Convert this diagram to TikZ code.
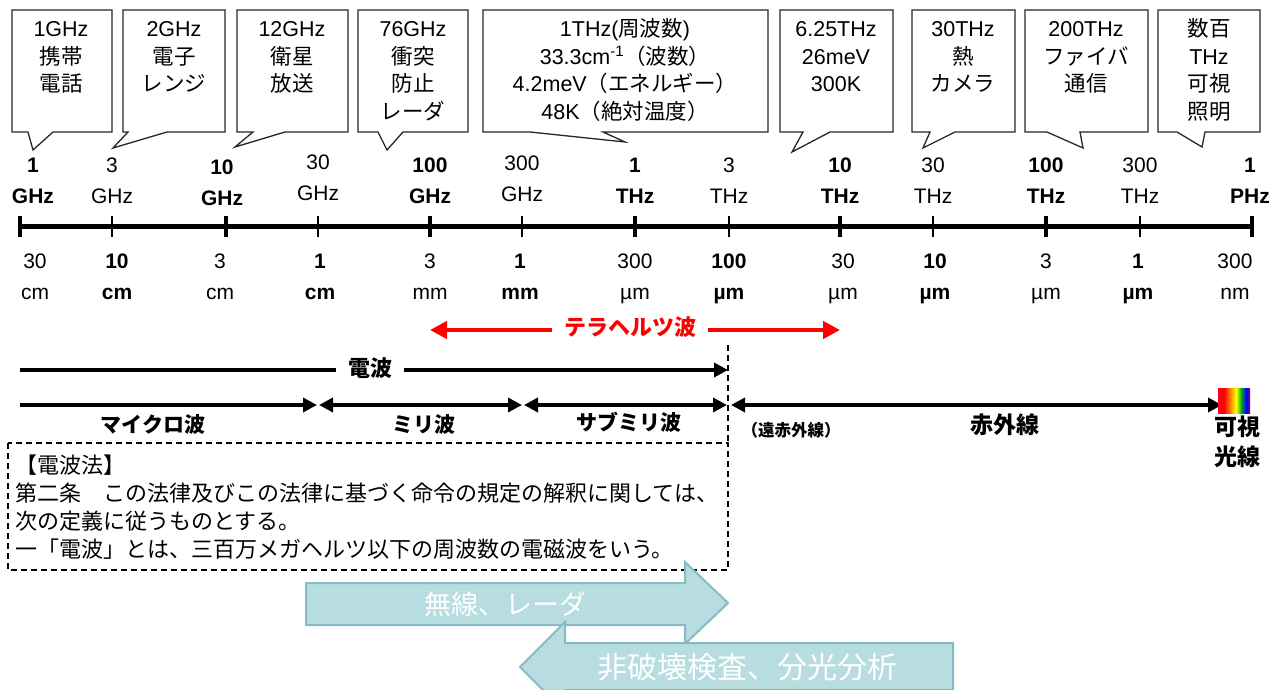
\documentclass[tikz,border=0pt]{standalone}
\usepackage{fontspec}
\setmainfont{Liberation Sans}
\newfontfamily\jp{Noto Sans CJK JP}
\usetikzlibrary{arrows.meta}
\definecolor{tealfill}{HTML}{B7DDE0}
\definecolor{tealline}{HTML}{86BCC1}
\begin{document}
\begin{tikzpicture}[x=1pt,y=-1pt,
  callout/.style={draw=black!85, line width=1.3pt, fill=white, line join=miter},
  ctext/.style={align=center, font=\fontsize{21.5}{27.5}\selectfont, inner sep=0pt, anchor=base},
  toplab/.style={align=center, font=\fontsize{21}{31}\selectfont, inner sep=0pt, anchor=base},
  toplabB/.style={align=center, font=\fontsize{21}{31}\selectfont\bfseries, inner sep=0pt, anchor=base},
  majortick/.style={line width=4pt},
  minortick/.style={line width=1.3pt},
  tipk/.tip={Triangle[length=14pt,width=14pt]},
  blkline/.style={line width=4pt},
  blkarrow/.style={line width=4pt,-tipk},
  blkboth/.style={line width=4pt,tipk-tipk},
  redtip/.tip={Triangle[length=17pt,width=17pt]},
  redline/.style={line width=4.5pt, draw=red, -redtip},
  lab/.style={font=\jp\fontsize{21}{26}\selectfont\bfseries, inner sep=0pt, anchor=center},
  dashline/.style={line width=1.3pt, dash pattern=on 6pt off 4pt},
  bigarrow/.style={fill=tealfill, draw=tealline, line width=2pt, line join=miter},
  bigtext/.style={text=white, font=\jp\fontsize{27}{30}\selectfont, inner sep=0pt}
]
\clip (0,0) rectangle (1277,690);
\fill[white] (0,0) rectangle (1277,690);

% ---------- callouts ----------
\draw[callout] (12,10) -- (112,10) -- (112,132) -- (53,132) -- (33,150) -- (28,132) -- (12,132) -- cycle;
\node[ctext] (c1) at (61,92) {1GHz\\{\jp 携帯}\\{\jp 電話}};

\draw[callout] (123,10) -- (225,10) -- (225,132) -- (167,132) -- (113,148) -- (128,132) -- (123,132) -- cycle;
\node[ctext] (c2) at (174,92) {2GHz\\{\jp 電子}\\{\jp レンジ}};

\draw[callout] (237,10) -- (348,10) -- (348,132) -- (285,132) -- (235,147) -- (253,132) -- (237,132) -- cycle;
\node[ctext] (c3) at (292,92) {12GHz\\{\jp 衛星}\\{\jp 放送}};

\draw[callout] (358,10) -- (468,10) -- (468,132) -- (403,132) -- (387,150) -- (378,132) -- (358,132) -- cycle;
\node[ctext] (c4) at (413,119.5) {76GHz\\{\jp 衝突}\\{\jp 防止}\\{\jp レーダ}};

\draw[callout] (483,10) -- (768,10) -- (768,132) -- (603,132) -- (625,142) -- (530,132) -- (483,132) -- cycle;
\node[ctext] (c5) at (625,119.5) {1THz({\jp 周波数})\\33.3cm\textsuperscript{-1}{\jp （波数）}\\4.2meV{\jp （エネルギー）}\\48K{\jp （絶対温度）}};

\draw[callout] (780,10) -- (893,10) -- (893,132) -- (830,132) -- (792,152) -- (803,132) -- (780,132) -- cycle;
\node[ctext] (c6) at (836,92) {6.25THz\\26meV\\300K};

\draw[callout] (912,10) -- (1015,10) -- (1015,132) -- (955,132) -- (923,148) -- (930,132) -- (912,132) -- cycle;
\node[ctext] (c7) at (963,92) {30THz\\{\jp 熱}\\{\jp カメラ}};

\draw[callout] (1025,10) -- (1148,10) -- (1148,132) -- (1080,132) -- (1083,148) -- (1047,132) -- (1025,132) -- cycle;
\node[ctext] (c8) at (1086,92) {200THz\\{\jp ファイバ}\\{\jp 通信}};

\draw[callout] (1158,10) -- (1260,10) -- (1260,132) -- (1205,132) -- (1202,147) -- (1177,132) -- (1158,132) -- cycle;
\node[ctext] (c9) at (1209,119.5) {{\jp 数百}\\THz\\{\jp 可視}\\{\jp 照明}};

% ---------- axis ----------
\draw[line width=5pt] (20,226) -- (1252,226);
\foreach \x in {20,226,430,635,840,1046,1252} \draw[majortick] (\x,216) -- (\x,237);
\foreach \x in {112,318,522,729,933,1140} \draw[minortick] (\x,216) -- (\x,237);

% top labels
\node[toplabB] (f1) at (33,203) {1\\GHz};
\node[toplab]  (f2) at (112,203) {3\\GHz};
\node[toplabB] (f3) at (222,205) {10\\GHz};
\node[toplab]  (f4) at (318,200) {30\\GHz};
\node[toplabB] (f5) at (430,203) {100\\GHz};
\node[toplab]  (f6) at (522,201) {300\\GHz};
\node[toplabB] (f7) at (635,203) {1\\THz};
\node[toplab]  (f8) at (729,203) {3\\THz};
\node[toplabB] (f9) at (840,203) {10\\THz};
\node[toplab]  (f10) at (933,203) {30\\THz};
\node[toplabB] (f11) at (1046,203) {100\\THz};
\node[toplab]  (f12) at (1140,203) {300\\THz};
\node[toplabB] (f13) at (1250,203) {1\\PHz};

% bottom labels
\node[toplab]  (w1) at (35,299) {30\\cm};
\node[toplabB] (w2) at (117,299) {10\\cm};
\node[toplab]  (w3) at (220,299) {3\\cm};
\node[toplabB] (w4) at (320,299) {1\\cm};
\node[toplab]  (w5) at (430,299) {3\\mm};
\node[toplabB] (w6) at (520,299) {1\\mm};
\node[toplab]  (w7) at (635,299) {300\\µm};
\node[toplabB] (w8) at (729,299) {100\\µm};
\node[toplab]  (w9) at (843,299) {30\\µm};
\node[toplabB] (w10) at (935,299) {10\\µm};
\node[toplab]  (w11) at (1046,299) {3\\µm};
\node[toplabB] (w12) at (1138,299) {1\\µm};
\node[toplab]  (w13) at (1235,299) {300\\nm};

% ---------- terahertz ----------
\coordinate (r1) at (430,330);
\coordinate (r2) at (840,330);
\node[lab, text=red, font=\jp\fontsize{22}{26}\selectfont\bfseries, inner xsep=12pt] (thz) at (630,327) {テラヘルツ波};
\draw[redline] (r1 -| thz.west) -- (r1);
\draw[redline] (r2 -| thz.east) -- (r2);

% ---------- radio waves ----------
\coordinate (d1) at (20,370);
\coordinate (d2) at (728,370);
\node[lab, font=\jp\fontsize{22}{26}\selectfont\bfseries, inner xsep=12pt] (denpa) at (370,368) {電波};
\draw[blkline] (d1) -- (d1 -| denpa.west);
\draw[blkarrow] (d2 -| denpa.east) -- (d2);

% ---------- bands ----------
\coordinate (b0) at (20,405);
\coordinate (b1) at (317,405);
\coordinate (b1r) at (319,405);
\coordinate (b2) at (522,405);
\coordinate (b2r) at (524,405);
\coordinate (b3) at (727,405);
\coordinate (b3r) at (731,405);
\coordinate (b4) at (1222,405);
\draw[blkarrow] (b0) -- (b1);
\draw[blkboth] (b1r) -- (b2);
\draw[blkboth] (b2r) -- (b3);
\draw[blkboth] (b3r) -- (b4);

\node[lab] (micro) at (153,425) {マイクロ波};
\node[lab] (milli) at (424,425) {ミリ波};
\node[lab] (submm) at (629,422) {サブミリ波};
\node[lab, font=\jp\fontsize{16.5}{19}\selectfont\bfseries] (fir) at (791,430) {（遠赤外線）};
\node[lab, font=\jp\fontsize{23}{26}\selectfont\bfseries] (ir) at (1005,425) {赤外線};
\node[lab, font=\jp\fontsize{23}{30}\selectfont\bfseries, align=center] (vis) at (1237,442) {可視\\光線};

% rainbow
\shade[left color=red!85!magenta, right color=red] (1218,388) rectangle (1224,413);
\shade[left color=red, right color=orange] (1224,388) rectangle (1230,413);
\shade[left color=orange, right color=yellow] (1230,388) rectangle (1236,413);
\shade[left color=yellow, right color=green!70!black] (1236,388) rectangle (1241,413);
\shade[left color=green!70!black, right color=blue] (1241,388) rectangle (1246,413);
\shade[left color=blue, right color=violet] (1246,388) rectangle (1250,413);

% ---------- law box ----------
\draw[dashline] (728,345) -- (728,443);
\draw[dashline] (8,443) rectangle (728,570);
\node[anchor=base west, align=left, inner sep=0pt, font=\jp\fontsize{22}{28}\selectfont] (law) at (15,557)
 {【電波法】\\第二条　この法律及びこの法律に基づく命令の規定の解釈に関しては、\\次の定義に従うものとする。\\一「電波」とは、三百万メガヘルツ以下の周波数の電磁波をいう。};

% ---------- application arrows ----------
\draw[bigarrow] (306,583) -- (685,583) -- (685,562) -- (728,603) -- (685,644) -- (685,625) -- (306,625) -- cycle;
\node[bigtext] (radio) at (505,604) {無線、レーダ};
\draw[bigarrow] (953,643) -- (565,643) -- (565,622) -- (520,667) -- (565,712) -- (565,690) -- (953,690) -- cycle;
\node[bigtext, font=\jp\fontsize{30}{32}\selectfont] (ndt) at (747,667) {非破壊検査、分光分析};
\end{tikzpicture}
\end{document}
